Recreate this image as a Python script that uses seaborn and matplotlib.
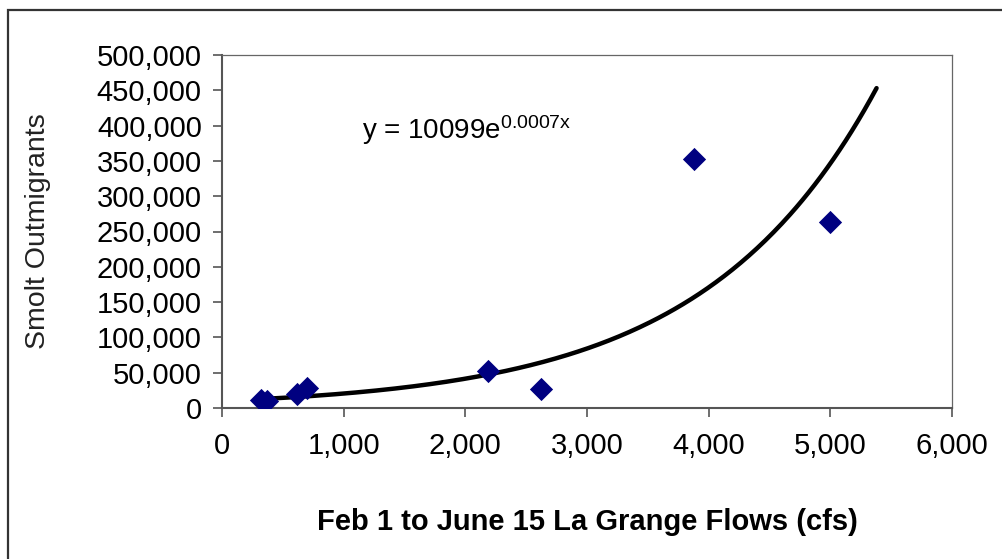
import numpy as np
import pandas as pd
import matplotlib
matplotlib.use("Agg")
import matplotlib.pyplot as plt
from matplotlib.patches import Rectangle
from matplotlib.ticker import FuncFormatter, MultipleLocator
import seaborn as sns

# ---- data ----
flows_cfs = [320, 370, 620, 700, 2190, 2620, 3880, 5000]
smolts = [11000, 10000, 20000, 28000, 52000, 27000, 353000, 264000]

# trendline as shown in the chart (exponential fit)
trend_a = 10099
trend_b = 0.000707
trend_label_text = "y = 10099e"
trend_label_sup = "0.0007x"
trend_x_start = 320
trend_x_end = 5380

x_label = "Feb 1 to June 15 La Grange Flows (cfs)"
y_label = "Smolt Outmigrants"

sns.set_theme(style="white")
plt.rcParams["font.family"] = ["Liberation Sans", "DejaVu Sans"]
plt.rcParams["mathtext.default"] = "regular"

fig = plt.figure(figsize=(10.03, 5.59), dpi=100)
ax = fig.add_axes([222 / 1003, 1 - 408 / 559, (952 - 222) / 1003, (408 - 55) / 559])

df = pd.DataFrame({"flow": flows_cfs, "smolts": smolts})
tx = np.linspace(trend_x_start, trend_x_end, 300)
trend = pd.DataFrame({"flow": tx, "smolts": trend_a * np.exp(trend_b * tx)})

sns.lineplot(data=trend, x="flow", y="smolts", ax=ax, color="black", linewidth=3.2, zorder=2)
sns.scatterplot(data=df, x="flow", y="smolts", ax=ax, marker="D", s=140,
                color="#000080", edgecolor="#000080", linewidth=0, zorder=3)

ax.set_xlim(0, 6000)
ax.set_ylim(0, 500000)
ax.xaxis.set_major_locator(MultipleLocator(1000))
ax.yaxis.set_major_locator(MultipleLocator(50000))
fmt = FuncFormatter(lambda v, p: f"{int(round(v)):,}")
ax.xaxis.set_major_formatter(fmt)
ax.yaxis.set_major_formatter(fmt)

ax.tick_params(axis="both", which="major", direction="out", length=6.5, width=1.2,
               color="#555555", labelsize=21, labelcolor="black", left=True, bottom=True)
ax.tick_params(axis="x", pad=11)
ax.tick_params(axis="y", pad=8)

for side in ["left", "bottom"]:
    ax.spines[side].set_color("#555555")
    ax.spines[side].set_linewidth(1.5)
for side in ["top", "right"]:
    ax.spines[side].set_color("#666666")
    ax.spines[side].set_linewidth(0.9)

ax.set_xlabel(x_label, fontsize=21, fontweight="bold", labelpad=34, color="black")
ax.set_ylabel(y_label, fontsize=20.5, labelpad=33, color="#222222")

ax.text(1150, 393000, trend_label_text + r"$^{" + trend_label_sup + "}$", fontsize=20,
        va="center", ha="left", color="black")

# outer chart border
fig.patches.append(Rectangle((8 / 1003, -0.1), 2.0, (559 - 10) / 559 + 0.1,
                             transform=fig.transFigure, fill=False,
                             edgecolor="#333333", linewidth=1.6))

fig.savefig("out.png", dpi=100, facecolor="white")
